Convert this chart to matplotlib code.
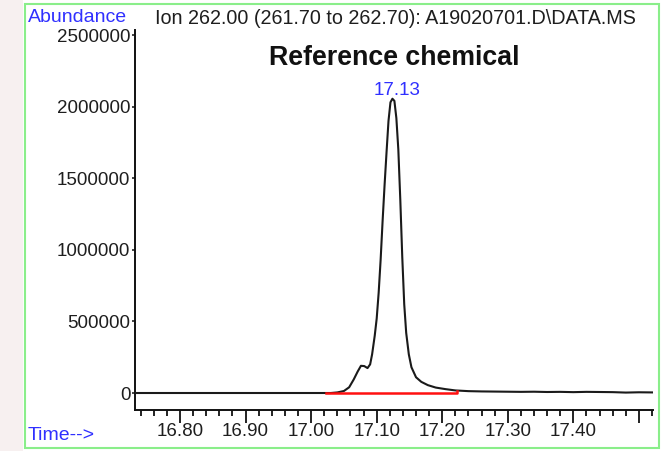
import matplotlib
matplotlib.use("Agg")
import matplotlib.pyplot as plt
from matplotlib.patches import Rectangle
from matplotlib.ticker import FixedLocator, FixedFormatter, MultipleLocator

plt.rcParams['font.family'] = ['Liberation Sans', 'DejaVu Sans']

# chromatogram trace (time in min, abundance)
tempo = [16.731, 17.030, 17.040, 17.050, 17.058, 17.065, 17.071, 17.076, 17.081,
         17.086, 17.090, 17.093, 17.097, 17.100, 17.103, 17.106, 17.109, 17.112,
         17.115, 17.118, 17.121, 17.124, 17.127, 17.130, 17.133, 17.136, 17.139,
         17.142, 17.145, 17.149, 17.153, 17.160, 17.168, 17.178, 17.190, 17.205,
         17.220, 17.240, 17.260, 17.280, 17.300, 17.320, 17.340, 17.360, 17.380,
         17.400, 17.420, 17.440, 17.460, 17.480, 17.500, 17.521]
abundancia = [0, 0, 4000, 14000, 40000, 95000, 150000, 190000, 188000,
              174000, 200000, 270000, 400000, 520000, 700000, 930000, 1200000, 1450000,
              1680000, 1900000, 2030000, 2055000, 2040000, 1920000, 1700000, 1350000, 950000,
              620000, 420000, 270000, 180000, 110000, 78000, 55000, 38000, 27000,
              18000, 13000, 11000, 10000, 9000, 8000, 9000, 7000, 8000,
              6000, 8000, 7000, 6000, 3000, 5000, 4000]

# integration baseline (red)
base_t = [17.022, 17.223, 17.223]
base_v = [0, 0, 15000]

pico_t = 17.124
pico_v = 2055000
pico_rotulo = "17.13"

y_ticks = [0, 500000, 1000000, 1500000, 2000000, 2500000]
y_labels = ["0", "500000", "1000000", "1500000", "2000000", "2500000"]
x_ticks = [16.80, 16.90, 17.00, 17.10, 17.20, 17.30, 17.40, 17.50]
x_labels = ["16.80", "16.90", "17.00", "17.10", "17.20", "17.30", "17.40", ""]

titulo = "Reference chemical"
cabecalho = "Ion 262.00 (261.70 to 262.70): A19020701.D\\DATA.MS"

W, H = 661, 451
azul = "#3030ff"
texto = "#1e1e1e"
fs = 13.5


def fx(px):
    return px / W


def fy(py):
    return 1 - py / H


fig = plt.figure(figsize=(W / 100, H / 100), dpi=100)
fig.patch.set_facecolor("white")

# faint screenshot tint left of the frame
fig.patches.append(Rectangle((0, 0), fx(23), 1, transform=fig.transFigure,
                             facecolor="#f7f0f0", edgecolor="none", zorder=0))
# green frame
fig.patches.append(Rectangle((fx(25), fy(448)), fx(659) - fx(25), fy(4) - fy(448),
                             transform=fig.transFigure, facecolor="none",
                             edgecolor="#8aee8a", linewidth=1.5, zorder=1))

ax = fig.add_axes([fx(135), fy(410), fx(653) - fx(135), fy(30) - fy(410)])
ax.set_facecolor("none")

ax.plot(tempo, abundancia, color="#1a1a1a", linewidth=1.5, zorder=3)
ax.plot(base_t, base_v, color="#ff1010", linewidth=1.8, zorder=4)

ax.set_xlim(16.7313, 17.5215)
ax.set_ylim(-118700, 2535000)

for s in ["top", "right"]:
    ax.spines[s].set_visible(False)
for s in ["left", "bottom"]:
    ax.spines[s].set_linewidth(1.4)
    ax.spines[s].set_color("#111111")

ax.yaxis.set_major_locator(FixedLocator(y_ticks))
ax.yaxis.set_major_formatter(FixedFormatter(y_labels))
ax.xaxis.set_major_locator(FixedLocator(x_ticks))
ax.xaxis.set_major_formatter(FixedFormatter(x_labels))
ax.xaxis.set_minor_locator(MultipleLocator(0.02))

ax.tick_params(axis="y", direction="out", length=2.5, width=1.1, pad=0.8,
               labelsize=fs, labelcolor=texto, color="#111111")
ax.tick_params(axis="x", which="major", direction="out", length=9, width=1.3,
               pad=0.5, labelsize=fs, labelcolor=texto, color="#111111")
ax.tick_params(axis="x", which="minor", direction="out", length=4.5, width=1.3,
               color="#111111")

ax.annotate(pico_rotulo, xy=(pico_t, pico_v), xytext=(3, -0.5), textcoords="offset points",
            ha="center", va="bottom", fontsize=fs, color=azul)

fig.text(fx(28), fy(17), "Abundance", ha="left", va="center", fontsize=14, color=azul)
fig.text(fx(155), fy(18), cabecalho, ha="left", va="center", fontsize=14.2, color=texto)
fig.text(fx(394), fy(58), titulo, ha="center", va="center", fontsize=19.3,
         fontweight="bold", color="#111111")
fig.text(fx(28), fy(436), "Time-->", ha="left", va="center", fontsize=14, color=azul)

fig.savefig("out.png", dpi=100)
